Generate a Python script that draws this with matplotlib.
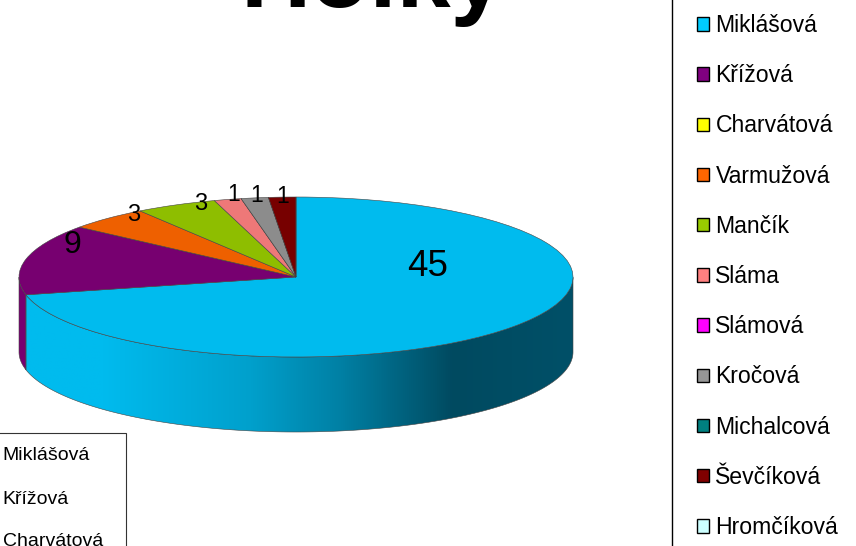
import numpy as np
import matplotlib
matplotlib.use("Agg")
import matplotlib.pyplot as plt
from matplotlib.colors import LinearSegmentedColormap
from matplotlib.patches import Polygon, Patch, Rectangle

plt.rcParams['font.family'] = ['Liberation Sans', 'DejaVu Sans']

title = "Holky"
names = ["Miklášová", "Křížová", "Charvátová", "Varmužová", "Mančík", "Sláma",
         "Slámová", "Kročová", "Michalcová", "Ševčíková", "Hromčíková"]
values = [45, 9, 0, 3, 3, 1, 0, 1, 0, 1, 0]
top_colors = ["#00BBEE", "#770070", "#EEEE00", "#EE6000", "#8EBE00", "#EE7878",
              "#EE00EE", "#8C8C8C", "#007777", "#770000", "#BBEEEE"]
legend_colors = ["#00CCFF", "#800080", "#FFFF00", "#FF6600", "#99CC00", "#FF8080",
                 "#FF00FF", "#969696", "#008080", "#800000", "#CCFFFF"]
left_names = names[:3]

W, H = 856, 546
CX, CY, RX, RY, DEPTH = 296, 277, 277, 80, 75

fig = plt.figure(figsize=(W / 100, H / 100), dpi=100)
ax = fig.add_axes([0, 0, 1, 1])
wedges, _ = ax.pie(values, colors=top_colors, startangle=90, counterclock=False,
                   wedgeprops=dict(edgecolor="#444444", linewidth=0.4, zorder=5))
ax.set_aspect('auto')
ax.set_xlim(-CX / RX, (W - CX) / RX)
ax.set_ylim((CY - H) / RY, CY / RY)
ax.axis('off')
d = DEPTH / RY

wall_cmap = LinearSegmentedColormap.from_list("wall", [
    (0.0, "#00BBEE"), (0.14, "#00BBEE"), (0.41, "#00A0CC"), (0.575, "#0080A4"),
    (0.78, "#004A60"), (1.0, "#005068")])
grad = wall_cmap(np.linspace(0, 1, 512))[None, :, :3]

for w, col in zip(wedges, top_colors):
    t = np.radians(np.linspace(w.theta1, w.theta2, 400))
    t = t[np.sin(t) <= 0]
    if t.size < 2:
        continue
    x, y = np.cos(t), np.sin(t)
    order = np.argsort(x)
    x, y = x[order], y[order]
    pts = np.r_[np.c_[x, y], np.c_[x[::-1], y[::-1] - d]]
    if col == top_colors[0]:
        poly = Polygon(pts, closed=True, fc="none", ec="none", zorder=2)
        ax.add_patch(poly)
        im = ax.imshow(grad, extent=(x.min(), x.max(), -1 - d, 0.2), aspect='auto', zorder=2)
        im.set_clip_path(poly)
        ax.add_patch(Polygon(pts, closed=True, fc="none", ec="#444444", lw=0.4, zorder=3))
    else:
        ax.add_patch(Polygon(pts, closed=True, fc=col, ec="#444444", lw=0.4, zorder=2))
ax.set_xlim(-CX / RX, (W - CX) / RX)
ax.set_ylim((CY - H) / RY, CY / RY)
ax.set_aspect('auto')

def fx(px):
    return px / W
def fy(py):
    return 1 - py / H

# value labels
label_pos = [(428, 266, 26.5), (72, 245, 23), (134, 215, 17), (201, 204, 17),
             (234, 194, 16.5), (257, 195, 16.5), (283, 196, 16.5)]
shown = [v for v in values if v > 0]
for v, (px, py, fs) in zip(shown, label_pos):
    fig.text(fx(px), fy(py), str(v), ha='center', va='center', fontsize=fs, color='black', zorder=10)

fig.text(fx(373), fy(7), title, ha='center', va='baseline', fontsize=70, fontweight='bold')

# right legend
fig.add_artist(Rectangle((fx(671.5), fy(560)), 0.5, fy(-20) - fy(560),
                         transform=fig.transFigure, fc='white', ec='black', lw=1))
handles = [Patch(fc=c, ec='black', lw=1) for c in legend_colors]
fig.legend(handles, names, loc='upper left', bbox_to_anchor=(fx(697), fy(14)),
           frameon=False, fontsize=16.6, borderpad=0, borderaxespad=0,
           labelspacing=1.18, handlelength=0.52, handleheight=0.52, handletextpad=0.28)

# left legend
fig.add_artist(Rectangle((fx(-5), fy(560)), fx(130.5), fy(433) - fy(560),
                         transform=fig.transFigure, fc='white', ec='#333333', lw=0.8))
for name, py in zip(left_names, [456, 499, 542]):
    fig.text(fx(2.5), fy(py), name, ha='left', va='center', fontsize=14)

fig.savefig("out.png", dpi=100)
